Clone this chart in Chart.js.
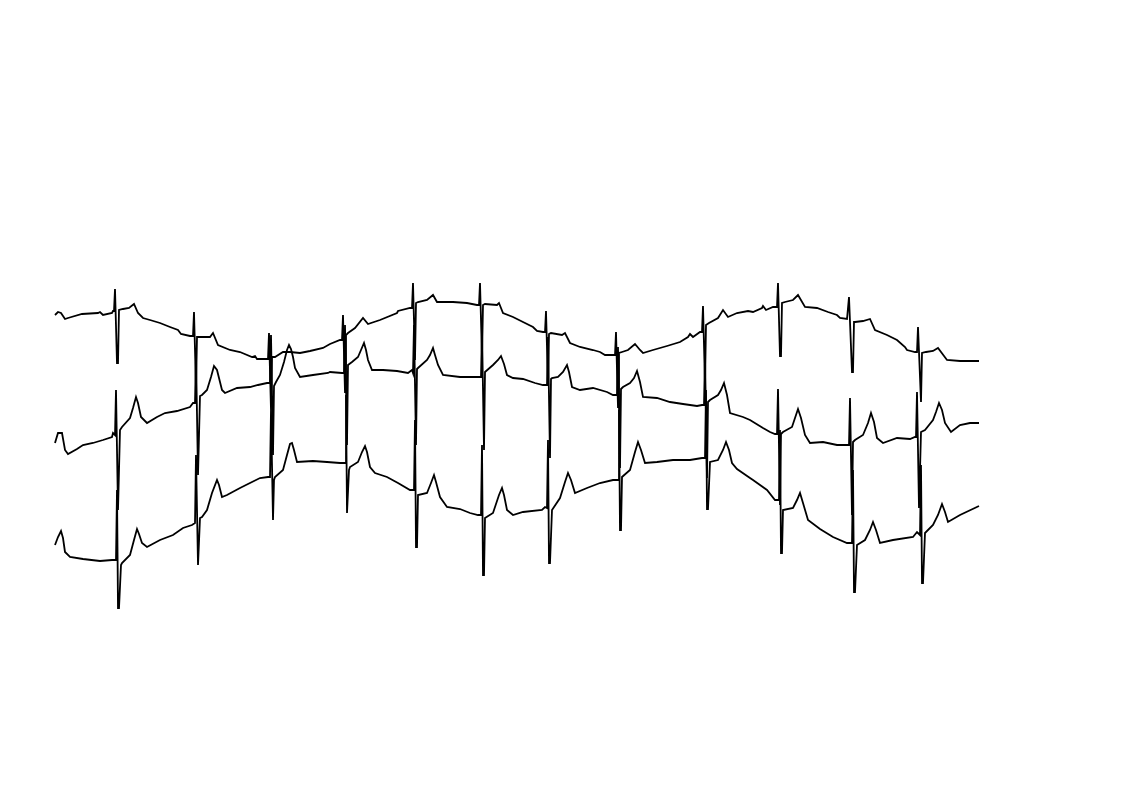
<!DOCTYPE html>
<html>
<head>
<meta charset="utf-8">
<script src="https://cdn.jsdelivr.net/npm/chart.js@4"></script>
<style>
  html, body { margin: 0; padding: 0; background: #fff; }
  #wrap { width: 1122px; height: 793px; }
</style>
</head>
<body>
<div id="wrap"><canvas id="ecg" width="1122" height="793"></canvas></div>
<script>
// three simultaneous ECG leads, [sample, amplitude] (amplitude grows downward)
const leadTop = [
  [55,315],[58,312],[61,313],[65,319],[68,318],[82,314],[98,313],[100,312],[103,315],[112,313],[113,311],
  [114,311],[115,289],[117,363],[118,363],[119,310],
  [123,309],[129,308],[134,304],[138,313],[143,318],[150,320],[160,323],[170,327],[178,330],[181,334],[190,336],
  [193,336],[194,312],[196,388],[197,337],
  [198,337],[210,337],[213,333],[218,345],[230,350],[240,352],[252,357],[255,356],[257,359],[267,359],
  [268,359],[269,333],[271,410],[272,357],
  [275,357],[283,352],[290,352],[300,353],[310,351],[323,348],[330,344],[340,340],
  [342,340],[343,315],[345,392],[346,335],
  [348,333],[355,328],[363,318],[368,324],[380,320],[397,313],[398,311],[410,308],
  [412,308],[413,283],[415,360],[416,303],
  [418,302],[427,300],[433,295],[437,302],[453,302],[467,303],[477,305],
  [479,305],[480,283],[482,357],[483,305],
  [485,304],[497,305],[499,303],[503,313],[513,317],[523,322],[533,327],[537,331],[543,332],
  [545,332],[546,311],[548,384],[549,334],
  [551,333],[562,335],[565,333],[570,343],[580,347],[593,350],[600,352],[605,355],[613,355],
  [615,355],[616,332],[618,407],[619,353],
  [622,352],[628,350],[635,344],[640,350],[643,353],[653,350],[667,346],[680,342],[688,337],[690,334],[693,337],[700,332],
  [702,332],[703,306],[705,384],[706,325],
  [709,323],[718,318],[723,310],[728,317],[737,313],[748,311],[753,312],[762,308],[763,306],[766,310],[773,307],
  [777,307],[778,283],[780,356],[781,356],[782,303],
  [785,302],[793,300],[798,295],[805,307],[817,308],[828,312],[837,315],[840,318],[847,319],
  [848,319],[849,297],[852,372],[853,372],[854,322],
  [855,322],[863,321],[870,319],[875,330],[887,335],[897,340],[905,347],[907,350],[915,352],
  [917,352],[918,327],[921,402],[922,353],
  [926,352],[933,351],[938,348],[947,360],[960,361],[979,361]
];

const leadMid = [
  [55,443],[58,433],[62,433],[65,450],[68,454],[77,449],[83,445],[93,443],[103,440],[112,437],[113,433],[115,435],
  [116,390],[118,510],[120,430],
  [122,427],[130,418],[133,408],[136,397],[138,403],[141,417],[147,423],[157,417],[165,413],[177,411],[190,407],[193,403],
  [195,403],[196,355],[198,475],[200,396],
  [202,395],[207,390],[211,377],[214,366],[217,370],[222,390],[225,393],[237,388],[250,387],[258,385],[267,383],
  [270,383],[271,335],[273,455],[274,386],
  [276,382],[280,375],[284,362],[287,350],[289,345],[291,349],[293,357],[295,368],[300,377],[313,375],[328,373],[330,372],[342,373],
  [344,373],[345,325],[347,445],[348,365],
  [352,362],[358,357],[361,350],[364,343],[366,350],[368,360],[372,370],[383,370],[397,371],[408,373],[412,370],
  [413,373],[414,325],[416,445],[417,369],
  [418,368],[427,360],[430,355],[433,348],[435,355],[438,365],[443,375],[460,377],[470,377],[477,377],
  [481,377],[482,330],[484,450],[485,372],
  [493,365],[498,360],[501,356],[504,364],[507,375],[513,378],[523,379],[535,383],[543,385],
  [547,385],[548,337],[550,458],[551,379],
  [552,378],[558,377],[563,372],[567,365],[569,372],[572,387],[580,390],[593,388],[607,392],[613,395],
  [617,395],[618,347],[620,468],[621,389],
  [623,387],[630,383],[634,378],[637,371],[640,382],[643,397],[657,398],[670,402],[683,404],[697,406],[702,405],
  [704,405],[705,357],[707,478],[708,402],
  [710,400],[718,395],[721,390],[724,383],[727,395],[730,413],[743,417],[750,420],[763,428],[770,432],[775,434],
  [777,434],[778,389],[780,505],[781,434],
  [783,432],[792,427],[795,418],[798,409],[801,418],[805,435],[810,443],[823,442],[837,445],[847,445],
  [849,445],[850,398],[852,515],[853,442],
  [855,440],[863,435],[868,423],[871,413],[874,422],[877,438],[883,443],[897,438],[910,439],[915,437],
  [916,437],[917,392],[919,508],[921,432],
  [925,430],[933,420],[936,412],[939,403],[942,410],[945,423],[951,432],[960,425],[970,423],[979,423]
];

const leadLow = [
  [55,545],[58,537],[61,531],[63,538],[65,552],[70,557],[83,559],[100,561],[112,560],[116,560],
  [117,490],[118,608],[119,608],[121,565],
  [122,563],[130,555],[134,540],[137,529],[139,534],[142,543],[147,547],[160,540],[173,535],[183,528],[192,525],[195,523],
  [196,455],[198,565],[200,518],
  [202,517],[207,510],[212,493],[217,480],[219,485],[222,497],[227,495],[240,488],[250,483],[260,478],[268,477],[270,477],
  [271,410],[273,520],[274,480],
  [275,477],[283,470],[287,455],[290,444],[292,443],[294,450],[297,462],[313,461],[327,462],[340,463],[345,463],
  [346,395],[347,513],[349,470],
  [350,467],[358,462],[362,452],[365,446],[367,452],[370,467],[375,473],[387,477],[398,483],[410,490],[414,490],
  [415,420],[416,547],[417,547],[418,495],
  [427,493],[431,483],[434,475],[436,482],[440,497],[447,507],[460,509],[470,513],[478,515],[481,515],
  [482,445],[483,575],[484,575],[485,518],
  [493,513],[499,495],[502,488],[504,495],[507,510],[513,515],[523,512],[542,510],[545,507],[547,508],
  [548,440],[549,563],[550,563],[552,510],
  [560,498],[565,482],[568,473],[571,480],[575,493],[587,488],[600,483],[613,480],[618,480],
  [619,410],[620,530],[621,530],[622,477],
  [630,470],[635,452],[638,442],[641,450],[645,463],[657,462],[673,460],[690,460],[702,458],[705,458],
  [706,390],[707,509],[708,509],[710,462],
  [718,460],[723,450],[726,442],[729,450],[732,463],[737,469],[750,478],[753,480],[767,490],[775,500],[779,500],
  [780,430],[781,553],[782,553],[783,510],
  [793,508],[797,500],[800,493],[803,503],[808,520],[820,529],[833,537],[847,543],[852,543],
  [853,470],[854,592],[855,592],[857,545],
  [865,540],[870,530],[873,522],[876,530],[880,543],[893,540],[913,537],[917,532],[920,535],
  [921,465],[922,583],[923,583],[925,533],
  [933,525],[938,515],[942,504],[945,512],[948,522],[960,515],[979,506]
];

const leads = [leadTop, leadMid, leadLow];

new Chart(document.getElementById('ecg'), {
  type: 'line',
  data: {
    datasets: leads.map(pts => ({
      data: pts.map(p => ({ x: p[0], y: p[1] })),
      borderColor: '#000',
      borderWidth: 1.8,
      pointRadius: 0,
      tension: 0,
      fill: false
    }))
  },
  options: {
    responsive: false,
    animation: false,
    layout: { padding: 0 },
    plugins: { legend: { display: false }, tooltip: { enabled: false } },
    scales: {
      x: { type: 'linear', min: 0, max: 1122, display: false },
      y: { type: 'linear', min: 0, max: 793, reverse: true, display: false }
    }
  }
});
</script>
</body>
</html>
